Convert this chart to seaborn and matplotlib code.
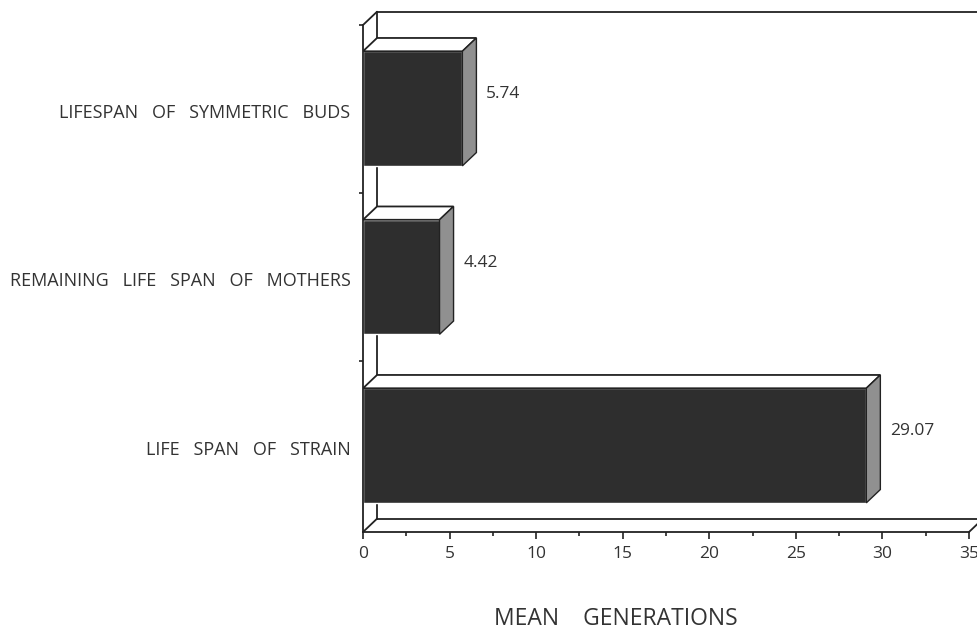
"""
Horizontal pseudo-3D bar chart of mean generations.
Run: python plot.py
"""
import matplotlib
matplotlib.use('Agg')
import matplotlib.pyplot as plt
from matplotlib.patches import Polygon
from matplotlib.transforms import ScaledTranslation
import pandas as pd
import seaborn as sns

categories = ['LIFESPAN   OF   SYMMETRIC   BUDS',
              'REMAINING   LIFE   SPAN   OF   MOTHERS',
              'LIFE   SPAN   OF   STRAIN']
values = [5.74, 4.42, 29.07]
value_labels = ['5.74', '4.42', '29.07']
x_ticks = [0, 5, 10, 15, 20, 25, 30, 35]
x_minor_ticks = [2.5, 7.5, 12.5, 17.5, 22.5, 27.5, 32.5]

FRONT = '#2e2e2e'
SIDE = '#909090'
LINE = '#222222'
TEXT = '#333333'

sns.set_theme(style='white')
plt.rcParams['font.family'] = ['Open Sans', 'DejaVu Sans']

df = pd.DataFrame({'category': categories, 'value': values})

fig = plt.figure(figsize=(9.78, 6.31), dpi=100, facecolor='white')
ax = fig.add_axes([363 / 978, 1 - 532 / 631, 606 / 978, 507 / 631])

sns.barplot(data=df, y='category', x='value', order=categories, orient='h',
            color=FRONT, saturation=1, width=0.68, ax=ax, zorder=3)
ax.set_xlim(0, 35)
ax.set_ylim(2.513, -0.496)

# depth of the fake 3D box, in data units
dx = 0.81
dy = -0.079
y_low, y_high = ax.get_ylim()

# back wall and floor
line_kw = dict(color=LINE, lw=1.3, clip_on=False, zorder=1)
ax.plot([dx, dx], [y_low + dy, y_high + dy], **line_kw)
ax.plot([dx, 36], [y_high + dy, y_high + dy], **line_kw)
ax.plot([dx, 36], [y_low + dy, y_low + dy], **line_kw)
ax.plot([0, dx], [y_high, y_high + dy], **line_kw)
ax.plot([0, dx], [y_low, y_low + dy], **line_kw)
ax.plot([35, 35 + dx], [y_low, y_low + dy], **line_kw)

# top and side faces of each bar
for bar, label in zip(ax.patches, value_labels):
    x1 = bar.get_width()
    top = bar.get_y()
    bottom = top + bar.get_height()
    ax.add_patch(Polygon([(0, top), (dx, top + dy), (x1 + dx, top + dy), (x1, top)],
                         facecolor='white', edgecolor=LINE, lw=1.3, zorder=4))
    ax.add_patch(Polygon([(x1, top), (x1 + dx, top + dy), (x1 + dx, bottom + dy), (x1, bottom)],
                         facecolor=SIDE, edgecolor=LINE, lw=1.0, zorder=4))
    ax.text(x1 + 1.37, (top + bottom) / 2 - 0.085, label, color=TEXT, fontsize=12.5,
            ha='left', va='center')

for side in ['top', 'right']:
    ax.spines[side].set_visible(False)
for side in ['left', 'bottom']:
    ax.spines[side].set_visible(True)
    ax.spines[side].set_color(LINE)
    ax.spines[side].set_linewidth(1.3)
    ax.spines[side].set_zorder(5)

ax.set_xticks(x_ticks)
ax.set_xticks(x_minor_ticks, minor=True)
ax.set_yticks([-0.496, 0.5, 1.5], minor=True)
ax.tick_params(axis='x', which='major', bottom=True, length=5, width=1.2, color=LINE,
               labelsize=12.5, labelcolor=TEXT, pad=5)
ax.tick_params(axis='x', which='minor', bottom=True, length=3, width=1.2, color=LINE)
ax.tick_params(axis='y', which='major', left=False, length=0, pad=9,
               labelsize=13, labelcolor=TEXT)
ax.tick_params(axis='y', which='minor', left=True, length=3, width=1.2, color=LINE)

# category labels sit slightly below the bar centres
label_shift = ScaledTranslation(0, -3 / 72, fig.dpi_scale_trans)
for tick in ax.get_yticklabels():
    tick.set_va('center')
    tick.set_transform(tick.get_transform() + label_shift)

ax.set_ylabel('')
ax.set_xlabel('MEAN    GENERATIONS', fontsize=16.5, color=TEXT, labelpad=32.5, x=0.4175)

fig.savefig('out.png', dpi=100)
